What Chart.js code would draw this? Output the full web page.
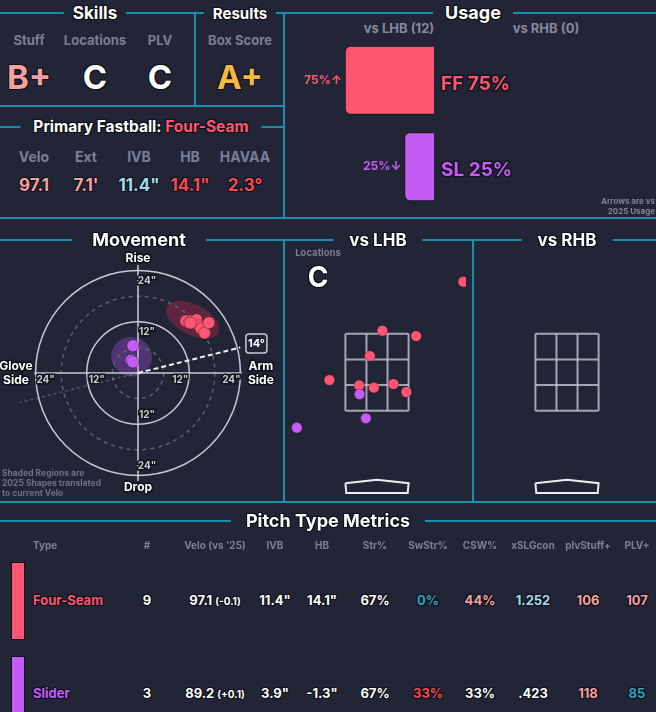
<!DOCTYPE html>
<html>
<head>
<meta charset="utf-8">
<script src="https://cdn.jsdelivr.net/npm/chart.js@4.4.1/dist/chart.umd.min.js"></script>
<style>
  body {
    margin: 0;
    width: 656px;
    height: 712px;
    overflow: hidden;
    position: relative;
    background: #222535;
    font-family: Inter, 'Noto Sans', sans-serif;
    font-weight: 700;
    color: #fff;
  }
  .ln { position: absolute; background: #1a8fab; }
  .t { position: absolute; line-height: 1; white-space: nowrap; transform: translate(-50%, -50%); }
  .t.left { transform: translate(0, -50%); }
  .t.right { transform: translate(-100%, -50%); text-align: right; }
  .o { text-shadow: 1px 1px 0 #0e1019, -1px -1px 0 #0e1019, 1px -1px 0 #0e1019, -1px 1px 0 #0e1019; }
  .ttl { background: #222535; z-index: 2; }
  canvas { position: absolute; }
  .swatch { position: absolute; left: 11px; width: 12px; border: 1px solid #11131b; }
</style>
</head>
<body>
<canvas id="usage" width="371" height="173" style="left:285px; top:37px"></canvas>
<canvas id="movement" width="284" height="260" style="left:0px; top:242px"></canvas>
<canvas id="locL" width="178" height="249" style="left:288px; top:252px"></canvas>
<canvas id="locR" width="178" height="249" style="left:478px; top:252px"></canvas>

<script>
// ---------- data ----------
const skillNames = ['Stuff', 'Locations', 'PLV'];
const skillGrades = ['B+', 'C', 'C'];
const resultNames = ['Box Score'];
const resultGrades = ['A+'];

const fastballName = 'Four-Seam';
const fbStatNames = ['Velo', 'Ext', 'IVB', 'HB', 'HAVAA'];
const fbStatValues = ['97.1', "7.1'", '11.4"', '14.1"', '2.3°'];

// usage vs LHB / RHB
const usagePitches = ['FF', 'SL'];
const usageLHB = [75, 25];
const usageArrows = ['↑', '↓'];
const batterSides = ['vs LHB', 'vs RHB'];
const batterCounts = [12, 0];

// movement (inches): horizontal break, induced vertical break
const ffHB = [11.2, 12.0, 12.6, 13.7, 14.3, 14.8, 15.6, 16.6, 12.3];
const ffIVB = [12.2, 11.8, 12.2, 12.5, 11.1, 10.4, 9.4, 11.8, 11.7];
const slHB = [-1.2, -1.6, -1.2];
const slIVB = [6.4, 3.0, 2.6];
const movementRings = [6, 12, 18, 24];
const ringLabels = [12, 24];
const armAngle = 14;
// 2025 shapes: centre, semi axes, tilt (deg)
const ffShape = [12.8, 12.5, 6.8, 3.6, -27];
const slShape = [-1.5, 3.8, 4.8, 4.6, -20];

// locations (feet): plate_x, plate_z
const ffLocX = [1.94, 0.12, 0.88, -0.16, -1.07, -0.40, -0.07, 0.37, 0.66];
const ffLocZ = [4.43, 3.33, 3.21, 2.76, 2.22, 2.10, 2.05, 2.13, 1.95];
const slLocX = [-0.39, -0.25, -1.80];
const slLocZ = [1.90, 1.36, 1.15];
const locationGrade = 'C';
const zoneX = [-0.71, 0.71];
const zoneZ = [1.53, 3.26];
const plateX = [-0.71, 0, 0.71, 0.69, -0.69, -0.71];
const plateZ = [-0.10, -0.02, -0.10, -0.32, -0.32, -0.10];

// pitch type metrics table
const tableHeaders = ['Type', '#', "Velo (vs '25)", 'IVB', 'HB', 'Str%', 'SwStr%', 'CSW%', 'xSLGcon', 'plvStuff+', 'PLV+'];
const pitchNames = ['Four-Seam', 'Slider'];
const pitchCounts = ['9', '3'];
const pitchVelo = ['97.1', '89.2'];
const pitchVeloDiff = ['(-0.1)', '(+0.1)'];
const pitchIVB = ['11.4"', '3.9"'];
const pitchHB = ['14.1"', '-1.3"'];
const pitchStr = ['67%', '67%'];
const pitchSwStr = ['0%', '33%'];
const pitchCSW = ['44%', '33%'];
const pitchXSLG = ['1.252', '.423'];
const pitchStuffPlus = ['106', '118'];
const pitchPLVPlus = ['107', '85'];

// ---------- styles ----------
const FONT = 'Inter, "Noto Sans", sans-serif';
const BG = '#222535';
const GRAY = '#7a7f97';
const RED = '#ff5572';
const PURPLE = '#c65cf6';
const pitchColors = [RED, PURPLE];
const PINK = '#f5a1a0';
const LIGHTBLUE = '#a4dbea';
const HOTRED = '#f24a54';
const TEAL = '#2ba4c4';

function line(x, y, w, h) {
  const d = document.createElement('div');
  d.className = 'ln';
  Object.assign(d.style, { left: x + 'px', top: y + 'px', width: w + 'px', height: h + 'px' });
  document.body.appendChild(d);
}

function txt(str, x, y, size, color, cls) {
  const d = document.createElement('div');
  d.className = 't' + (cls ? ' ' + cls : '');
  Object.assign(d.style, { left: x + 'px', top: y + 'px', fontSize: size + 'px', color: color });
  d.textContent = str;
  document.body.appendChild(d);
  return d;
}

function title(str, x, y, size, pad) {
  const d = txt(str, x, y, size, '#fff', 'o ttl');
  d.style.padding = '0 ' + pad + 'px';
  return d;
}

// ---------- frame lines ----------
line(0, 12, 656, 2);
line(194, 13, 2, 93);
line(283, 13, 2, 205);
line(0, 105, 284, 2);
line(0, 126, 284, 2);
line(0, 217, 656, 2);
line(0, 239, 656, 2);
line(283, 240, 2, 262);
line(472, 240, 2, 262);
line(0, 501, 656, 2);
line(0, 520, 656, 2);

// ---------- titles ----------
title('Skills', 95, 13, 17, 9);
title('Results', 240, 13, 15, 9);
title('Usage', 473, 13, 18, 12);
const pf = title('Primary Fastball: ', 141, 127, 15.5, 13);
const pfName = document.createElement('span');
pfName.style.color = RED;
pfName.textContent = fastballName;
pf.appendChild(pfName);
title('Movement', 139, 240, 18, 20);
title(batterSides[0], 378, 240, 17, 16);
title(batterSides[1], 567, 240, 17, 16);
title('Pitch Type Metrics', 328, 521, 18, 15);

// ---------- skills / results ----------
const skillX = [29, 95, 160];
const gradeColors = [PINK, '#fff', '#fff'];
skillNames.forEach((n, i) => {
  txt(n, skillX[i], 40, 13, GRAY);
  txt(skillGrades[i], skillX[i], 77, 33, gradeColors[i], 'o');
});
txt(resultNames[0], 240, 40, 13, GRAY);
txt(resultGrades[0], 240, 77, 33, '#f5b93e', 'o');

// ---------- primary fastball ----------
const fbX = [34, 86, 139, 190, 245];
const fbColors = [PINK, PINK, LIGHTBLUE, HOTRED, HOTRED];
fbStatNames.forEach((n, i) => {
  txt(n, fbX[i], 157, 14, GRAY);
  txt(fbStatValues[i], fbX[i], 185, 17, fbColors[i], 'o');
});

// ---------- usage ----------
txt(batterSides[0] + ' (' + batterCounts[0] + ')', 399, 28, 13, '#858a9e');
txt(batterSides[1] + ' (' + batterCounts[1] + ')', 546, 28, 13, '#858a9e');
txt('Arrows are vs', 655, 201, 8, '#7f8393', 'right');
txt('2025 Usage', 655, 211, 8, '#7f8393', 'right');

const usageLabels = {
  id: 'usageLabels',
  afterDatasetsDraw(chart) {
    const ctx = chart.ctx;
    chart.getDatasetMeta(0).data.forEach((bar, i) => {
      const p = bar.getProps(['x', 'y', 'base'], true);
      ctx.save();
      ctx.fillStyle = pitchColors[i];
      ctx.textBaseline = 'middle';
      ctx.lineWidth = 3;
      ctx.strokeStyle = '#14161f';
      ctx.font = '700 19px ' + FONT;
      ctx.textAlign = 'left';
      const big = usagePitches[i] + ' ' + usageLHB[i] + '%';
      ctx.strokeText(big, p.base + 7, p.y + 4);
      ctx.fillText(big, p.base + 7, p.y + 4);
      ctx.font = '700 12px ' + FONT;
      ctx.textAlign = 'right';
      ctx.fillText(usageLHB[i] + '%' + usageArrows[i], p.x - 3, p.y);
      ctx.restore();
    });
  }
};

new Chart(document.getElementById('usage'), {
  type: 'bar',
  data: {
    labels: usagePitches,
    datasets: [{
      data: usageLHB,
      backgroundColor: pitchColors,
      borderColor: '#14161f',
      borderWidth: 1,
      borderRadius: 6,
      borderSkipped: 'start',
      barPercentage: 0.8,
      categoryPercentage: 1
    }]
  },
  options: {
    indexAxis: 'y',
    responsive: false,
    animation: false,
    layout: { autoPadding: false, padding: { left: 30, right: 222, top: 0, bottom: 0 } },
    scales: {
      x: { display: false, min: 0, max: 100, reverse: true },
      y: { display: false }
    },
    plugins: { legend: { display: false }, tooltip: { enabled: false } }
  },
  plugins: [usageLabels]
});

// ---------- movement ----------
function outlinedText(ctx, str, x, y, color) {
  ctx.lineWidth = 3;
  ctx.strokeStyle = '#10121a';
  ctx.strokeText(str, x, y);
  ctx.fillStyle = color;
  ctx.fillText(str, x, y);
}

const movementDecor = {
  id: 'movementDecor',
  beforeDatasetsDraw(chart) {
    const { ctx, scales: { x, y } } = chart;
    const cx = x.getPixelForValue(0);
    const cy = y.getPixelForValue(0);
    const ppi = x.getPixelForValue(1) - cx;
    ctx.save();

    // 2025 shapes
    [[ffShape, 'rgba(200, 36, 80, 0.38)'], [slShape, 'rgba(160, 84, 228, 0.36)']].forEach(([s, col]) => {
      ctx.beginPath();
      ctx.ellipse(x.getPixelForValue(s[0]), y.getPixelForValue(s[1]), s[2] * ppi, s[3] * ppi,
        -s[4] * Math.PI / 180, 0, Math.PI * 2);
      ctx.fillStyle = col;
      ctx.fill();
    });

    // rings
    movementRings.forEach(r => {
      ctx.beginPath();
      ctx.arc(cx, cy, r * ppi, 0, Math.PI * 2);
      if (r % 12) {
        ctx.setLineDash([4, 4]);
        ctx.strokeStyle = '#5c6074';
      } else {
        ctx.setLineDash([]);
        ctx.strokeStyle = '#c9cad2';
      }
      ctx.lineWidth = 1.5;
      ctx.stroke();
    });
    ctx.setLineDash([]);

    // cross
    ctx.strokeStyle = '#c9cad2';
    ctx.lineWidth = 1.5;
    ctx.beginPath();
    ctx.moveTo(x.getPixelForValue(-24.3), cy);
    ctx.lineTo(x.getPixelForValue(24.3), cy);
    ctx.moveTo(cx, y.getPixelForValue(25.3));
    ctx.lineTo(cx, y.getPixelForValue(-25.3));
    ctx.stroke();

    // arm angle
    const a = armAngle * Math.PI / 180;
    ctx.setLineDash([3, 3]);
    ctx.strokeStyle = 'rgba(255,255,255,0.22)';
    ctx.lineWidth = 1.5;
    ctx.beginPath();
    ctx.moveTo(cx, cy);
    ctx.lineTo(x.getPixelForValue(-28.5 * Math.cos(a)), y.getPixelForValue(-28.5 * Math.sin(a)));
    ctx.stroke();
    ctx.setLineDash([5, 3]);
    ctx.strokeStyle = '#f2f2f5';
    ctx.lineWidth = 2;
    ctx.beginPath();
    ctx.moveTo(cx, cy);
    ctx.lineTo(x.getPixelForValue(24.7 * Math.cos(a)), y.getPixelForValue(24.7 * Math.sin(a)));
    ctx.stroke();
    ctx.setLineDash([]);

    // arm angle box
    const bx = x.getPixelForValue(28.6 * Math.cos(a));
    const by = y.getPixelForValue(28.6 * Math.sin(a));
    ctx.beginPath();
    ctx.roundRect(bx - 10.5, by - 9.5, 21, 19, 3);
    ctx.fillStyle = BG;
    ctx.fill();
    ctx.strokeStyle = '#c9cad2';
    ctx.lineWidth = 1.5;
    ctx.stroke();
    ctx.textAlign = 'center';
    ctx.textBaseline = 'middle';
    ctx.font = '700 11px ' + FONT;
    ctx.fillStyle = '#fff';
    ctx.fillText(armAngle + '°', bx, by + 0.5);

    // ring labels
    ctx.font = '700 10px ' + FONT;
    ringLabels.forEach(r => {
      const s = r + '"';
      const d = r * ppi;
      outlinedText(ctx, s, cx + 9, cy - d + 10, '#c8c9d1');
      outlinedText(ctx, s, cx + 9, cy + d - 9, '#c8c9d1');
      outlinedText(ctx, s, cx - d + 10, cy + 7, '#c8c9d1');
      outlinedText(ctx, s, cx + d - 9, cy + 7, '#c8c9d1');
    });

    // direction labels
    ctx.font = '700 12px ' + FONT;
    outlinedText(ctx, 'Rise', cx, y.getPixelForValue(26.8), '#fff');
    outlinedText(ctx, 'Drop', cx, y.getPixelForValue(-26.8), '#fff');
    const gx = x.getPixelForValue(-28.6), ax = x.getPixelForValue(28.8);
    outlinedText(ctx, 'Glove', gx, cy - 7, '#fff');
    outlinedText(ctx, 'Side', gx, cy + 7, '#fff');
    outlinedText(ctx, 'Arm', ax, cy - 7, '#fff');
    outlinedText(ctx, 'Side', ax, cy + 7, '#fff');
    ctx.restore();
  }
};

const toPts = (xs, ys) => xs.map((v, i) => ({ x: v, y: ys[i] }));

new Chart(document.getElementById('movement'), {
  type: 'scatter',
  data: {
    datasets: [
      { data: toPts(slHB, slIVB), backgroundColor: PURPLE, borderColor: 'rgba(20,20,30,0.35)', borderWidth: 1, pointRadius: 6 },
      { data: toPts(ffHB, ffIVB), backgroundColor: RED, borderColor: 'rgba(20,20,30,0.35)', borderWidth: 1, pointRadius: 6 }
    ]
  },
  options: {
    responsive: false,
    animation: false,
    layout: { autoPadding: false, padding: { left: 10, right: 18, top: 3, bottom: 1 } },
    scales: {
      x: { display: false, min: -30, max: 30 },
      y: { display: false, min: -30, max: 30 }
    },
    plugins: { legend: { display: false }, tooltip: { enabled: false } }
  },
  plugins: [movementDecor]
});

txt('Shaded Regions are', 2, 473, 8.5, '#6d7183', 'left');
txt('2025 Shapes translated', 2, 483, 8.5, '#6d7183', 'left');
txt('to current Velo', 2, 493, 8.5, '#6d7183', 'left');

// ---------- locations ----------
function segment(pts, color) {
  return {
    data: pts, showLine: true, borderColor: color, borderWidth: 2,
    pointRadius: 0, order: 1, borderJoinStyle: 'miter', clip: false
  };
}

function zoneSets() {
  const sets = [];
  for (let i = 0; i <= 3; i++) {
    const xv = zoneX[0] + (zoneX[1] - zoneX[0]) * i / 3;
    const zv = zoneZ[0] + (zoneZ[1] - zoneZ[0]) * i / 3;
    sets.push(segment([{ x: xv, y: zoneZ[0] }, { x: xv, y: zoneZ[1] }], 'rgba(196,197,206,0.8)'));
    sets.push(segment([{ x: zoneX[0], y: zv }, { x: zoneX[1], y: zv }], 'rgba(196,197,206,0.8)'));
  }
  sets.push(segment(toPts(plateX, plateZ), '#ececf1'));
  return sets;
}

function locationChart(id, pitchSets) {
  new Chart(document.getElementById(id), {
    type: 'scatter',
    data: { datasets: pitchSets.concat(zoneSets()) },
    options: {
      responsive: false,
      animation: false,
      layout: { autoPadding: false, padding: 0 },
      scales: {
        x: { display: false, min: -2, max: 2 },
        y: { display: false, min: -0.5, max: 5.1 }
      },
      plugins: { legend: { display: false }, tooltip: { enabled: false } }
    }
  });
}

locationChart('locL', [
  { data: toPts(slLocX, slLocZ), backgroundColor: PURPLE, borderColor: 'rgba(20,20,30,0.3)', borderWidth: 1, pointRadius: 5.3, order: 0, clip: 0 },
  { data: toPts(ffLocX, ffLocZ), backgroundColor: RED, borderColor: 'rgba(20,20,30,0.3)', borderWidth: 1, pointRadius: 5.3, order: 0, clip: 0 }
]);
locationChart('locR', []);

txt('Locations', 318, 253, 9.5, GRAY);
txt(locationGrade, 318, 277, 28, '#fff', 'o');

// ---------- pitch type metrics ----------
const colX = [33, 147, 215, 275, 322, 375, 428, 480, 533, 588, 637];
tableHeaders.forEach((h, i) => {
  txt(h, colX[i], 545, 10, '#7d8196', i === 0 ? 'left' : '');
});

const rowY = [600, 693];
const swatchTop = [562, 656];
const swatchH = [76, 60];
const cellColors = [
  ['#fff', '#fff', '#fff', '#fff', TEAL, PINK, LIGHTBLUE, PINK, PINK],
  ['#fff', '#fff', '#fff', '#fff', HOTRED, '#fff', '#fff', PINK, TEAL]
];
pitchNames.forEach((name, r) => {
  const sw = document.createElement('div');
  sw.className = 'swatch';
  Object.assign(sw.style, { top: swatchTop[r] + 'px', height: swatchH[r] + 'px', background: pitchColors[r] });
  document.body.appendChild(sw);

  const y = rowY[r];
  txt(name, colX[0], y, 13, pitchColors[r], 'left o');
  txt(pitchCounts[r], colX[1], y, 13, '#fff', 'o');

  const v = txt(pitchVelo[r] + ' ', colX[2], y, 13, '#fff', 'o');
  const diff = document.createElement('span');
  diff.style.fontSize = '10px';
  diff.textContent = pitchVeloDiff[r];
  v.appendChild(diff);

  const rest = [pitchIVB, pitchHB, pitchStr, pitchSwStr, pitchCSW, pitchXSLG, pitchStuffPlus, pitchPLVPlus];
  rest.forEach((arr, k) => {
    txt(arr[r], colX[k + 3], y, 13, cellColors[r][k + 1], 'o');
  });
});
</script>
</body>
</html>
